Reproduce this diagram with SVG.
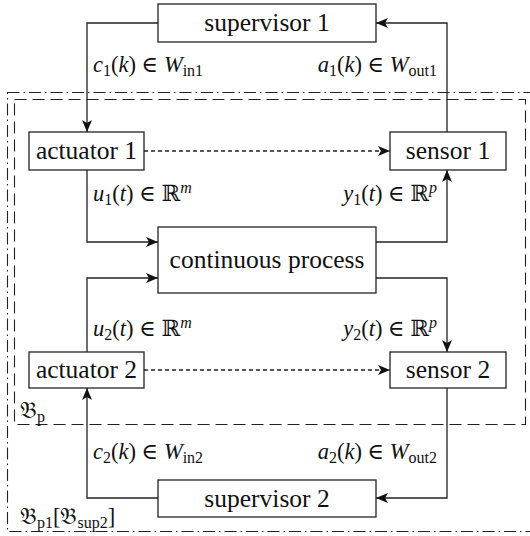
<svg xmlns="http://www.w3.org/2000/svg" width="530" height="536" viewBox="0 0 530 536">
<style>
  .box { fill: #fff; stroke: #222; stroke-width: 1.3; }
  .lbl { font-family: 'Liberation Serif', 'Times New Roman', 'DejaVu Serif', serif; font-size: 25.5px; fill: #111; text-anchor: middle; }
  .math { font-family: 'Liberation Serif', 'Times New Roman', 'DejaVu Serif', serif; font-size: 22.5px; fill: #111; }
  .it { font-style: italic; }
  .conn { fill: none; stroke: #222; stroke-width: 1.3; }
  .dash { fill: none; stroke: #222; stroke-width: 1.3; stroke-dasharray: 4 3; }
  .frame1 { fill: none; stroke: #222; stroke-width: 1.1; stroke-dasharray: 12 6; }
  .frame2 { fill: none; stroke: #222; stroke-width: 1.1; stroke-dasharray: 12 4 1.5 4; }
</style>
<defs>
  <marker id="arr" viewBox="0 0 12 10" refX="12" refY="5" markerWidth="12" markerHeight="10" markerUnits="userSpaceOnUse" orient="auto">
    <path d="M0,0 L12,5 L0,10 L3,5 Z" fill="#111"/>
  </marker>
</defs>

<g id="frames">
  <rect class="frame2" x="7.5" y="92.5" width="540" height="439"/>
  <rect class="frame1" x="14.5" y="99.5" width="511" height="325"/>
  <text class="math" x="20" y="418"><tspan>𝔅</tspan><tspan font-size="16" dy="4">p</tspan></text>
  <text class="math" x="20" y="524"><tspan>𝔅</tspan><tspan font-size="16" dy="4">p1</tspan><tspan dy="-4">[𝔅</tspan><tspan font-size="16" dy="4">sup2</tspan><tspan dy="-4">]</tspan></text>
</g>

<g id="connectors">
  <path class="conn" d="M158,23 H87 V132" marker-end="url(#arr)"/>
  <path class="conn" d="M447,132 V23 H376" marker-end="url(#arr)"/>
  <path class="dash" d="M144,151 H390" marker-end="url(#arr)"/>
  <path class="conn" d="M87,170 V242 H158" marker-end="url(#arr)"/>
  <path class="conn" d="M87,352 V278 H158" marker-end="url(#arr)"/>
  <path class="conn" d="M376,242 H447 V170" marker-end="url(#arr)"/>
  <path class="conn" d="M376,278 H447 V352" marker-end="url(#arr)"/>
  <path class="dash" d="M144,370 H390" marker-end="url(#arr)"/>
  <path class="conn" d="M158,498 H87 V388" marker-end="url(#arr)"/>
  <path class="conn" d="M447,388 V498 H376" marker-end="url(#arr)"/>

  <text class="math" x="93" y="72"><tspan class="it">c</tspan><tspan font-size="16" dy="4">1</tspan><tspan dy="-4">(</tspan><tspan class="it">k</tspan><tspan>) ∈ </tspan><tspan class="it">W</tspan><tspan font-size="16" dy="4">in1</tspan></text>
  <text class="math" x="437" y="72" text-anchor="end"><tspan class="it">a</tspan><tspan font-size="16" dy="4">1</tspan><tspan dy="-4">(</tspan><tspan class="it">k</tspan><tspan>) ∈ </tspan><tspan class="it">W</tspan><tspan font-size="16" dy="4">out1</tspan></text>
  <text class="math" x="93" y="201"><tspan class="it">u</tspan><tspan font-size="16" dy="4">1</tspan><tspan dy="-4">(</tspan><tspan class="it">t</tspan><tspan>) ∈ ℝ</tspan><tspan class="it" font-size="16" dy="-8">m</tspan></text>
  <text class="math" x="437" y="201" text-anchor="end"><tspan class="it">y</tspan><tspan font-size="16" dy="4">1</tspan><tspan dy="-4">(</tspan><tspan class="it">t</tspan><tspan>) ∈ ℝ</tspan><tspan class="it" font-size="16" dy="-8">p</tspan></text>
  <text class="math" x="93" y="336"><tspan class="it">u</tspan><tspan font-size="16" dy="4">2</tspan><tspan dy="-4">(</tspan><tspan class="it">t</tspan><tspan>) ∈ ℝ</tspan><tspan class="it" font-size="16" dy="-8">m</tspan></text>
  <text class="math" x="437" y="336" text-anchor="end"><tspan class="it">y</tspan><tspan font-size="16" dy="4">2</tspan><tspan dy="-4">(</tspan><tspan class="it">t</tspan><tspan>) ∈ ℝ</tspan><tspan class="it" font-size="16" dy="-8">p</tspan></text>
  <text class="math" x="93" y="459"><tspan class="it">c</tspan><tspan font-size="16" dy="4">2</tspan><tspan dy="-4">(</tspan><tspan class="it">k</tspan><tspan>) ∈ </tspan><tspan class="it">W</tspan><tspan font-size="16" dy="4">in2</tspan></text>
  <text class="math" x="437" y="459" text-anchor="end"><tspan class="it">a</tspan><tspan font-size="16" dy="4">2</tspan><tspan dy="-4">(</tspan><tspan class="it">k</tspan><tspan>) ∈ </tspan><tspan class="it">W</tspan><tspan font-size="16" dy="4">out2</tspan></text>
</g>

<g id="supervisor1">
  <rect class="box" x="158" y="4" width="218" height="38"/>
  <text class="lbl" x="267" y="31">supervisor 1</text>
</g>
<g id="actuator1">
  <rect class="box" x="29" y="132" width="115" height="38"/>
  <text class="lbl" x="86.5" y="159">actuator 1</text>
</g>
<g id="sensor1">
  <rect class="box" x="390" y="132" width="116" height="38"/>
  <text class="lbl" x="448" y="159">sensor 1</text>
</g>
<g id="process">
  <rect class="box" x="158" y="227" width="218" height="66"/>
  <text class="lbl" x="267" y="268">continuous process</text>
</g>
<g id="actuator2">
  <rect class="box" x="29" y="352" width="115" height="36"/>
  <text class="lbl" x="86.5" y="378">actuator 2</text>
</g>
<g id="sensor2">
  <rect class="box" x="390" y="352" width="116" height="36"/>
  <text class="lbl" x="448" y="378">sensor 2</text>
</g>
<g id="supervisor2">
  <rect class="box" x="158" y="480" width="218" height="37"/>
  <text class="lbl" x="267" y="507">supervisor 2</text>
</g>
</svg>
